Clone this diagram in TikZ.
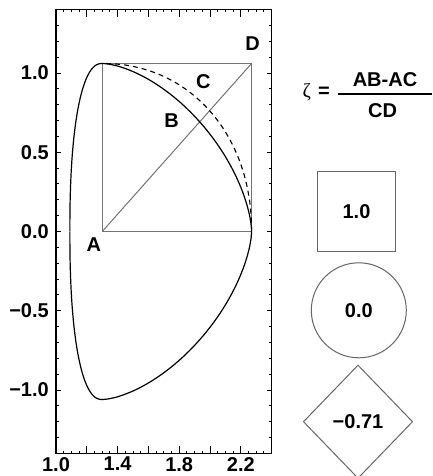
\documentclass[tikz,border=0pt]{standalone}
\usepackage{fontspec}
\setmainfont{Liberation Sans}
\newfontfamily\zetafont{Liberation Serif}
\usetikzlibrary{shapes.geometric}
\begin{document}
\begin{tikzpicture}[x=1pt,y=-1pt,
  font=\fontsize{20}{24}\selectfont\bfseries,
  lbl/.style={inner sep=0pt},
  frame/.style={line width=1.4pt,black},
  tick/.style={line width=0.9pt,black},
  curve/.style={line width=1.2pt,black},
  dashcurve/.style={line width=1.1pt,black,dash pattern=on 5pt off 4pt},
  guide/.style={line width=1pt,black!55},
  legendshape/.style={draw=black!60,line width=1pt,inner sep=0pt},
]
\useasboundingbox (0,0) rectangle (433,476);
\fill[white] (0,0) rectangle (433,476);

\begin{scope}[shift={(-98,231.5)},x=154pt,y=158.5pt]
  % frame
  \coordinate (FBL) at (1.0,-1.4);
  \coordinate (FTR) at (2.4,1.4);
  \draw[frame] (FBL) rectangle (FTR);
  % x ticks
  \foreach \i in {1,...,27}{
    \pgfmathsetmacro\xx{1+0.05*\i}
    \pgfmathsetmacro\tl{ifthenelse(mod(\i,4)==0,7,2.8)}
    \draw[tick] (\xx,-1.4) -- ++(0pt,\tl pt);
    \draw[tick] (\xx,1.4) -- ++(0pt,-\tl pt);
  }
  % y ticks
  \foreach \j in {-13,...,13}{
    \pgfmathsetmacro\yy{0.1*\j}
    \pgfmathsetmacro\tl{ifthenelse(mod(\j,5)==0,5,2.8)}
    \draw[tick] (1.0,\yy) -- ++(\tl pt,0pt);
    \draw[tick] (2.4,\yy) -- ++(-\tl pt,0pt);
  }
  % y labels
  \foreach \v/\t in {1.0/1.0,0.5/0.5,0.0/0.0,-0.5/{\char"2212 0.5},-1.0/{\char"2212 1.0}}{
    \node[lbl,anchor=east,xshift=-7pt] (yl\v) at (1.0,\v) {\t};
  }
  % x labels
  \foreach \v in {1.0,1.4,1.8,2.2}{
    \node[lbl,anchor=north,yshift=-3.5pt] (xl\v) at (\v,-1.4) {\v};
  }

  % square ABCD
  \coordinate (A) at (1.30,0);
  \coordinate (D) at (2.27,1.06);
  \draw[guide] (A) rectangle (D);
  \draw[guide] (A) -- (D);

  % plasma boundary
  \draw[curve] plot[domain=0:90,samples=70,variable=\t]
    ({1.30+0.97*pow(max(cos(\t),0.00001),2/1.624)},{1.06*pow(max(sin(\t),0.00001),2/1.624)});
  \draw[curve] plot[domain=90:180,samples=70,variable=\t]
    ({1.30-0.21*pow(max(-cos(\t),0.00001),2/2.3)},{1.06*pow(max(sin(\t),0.00001),2/2.3)});
  \draw[curve] plot[domain=180:270,samples=70,variable=\t]
    ({1.30-0.21*pow(max(-cos(\t),0.00001),2/2.3)},{-1.06*pow(max(-sin(\t),0.00001),2/2.3)});
  \draw[curve] plot[domain=270:360,samples=70,variable=\t]
    ({1.30+0.97*pow(max(cos(\t),0.00001),2/1.6)},{-1.06*pow(max(-sin(\t),0.00001),2/1.6)});
  % reference ellipse (dashed)
  \draw[dashcurve] plot[domain=0:90,samples=70,variable=\t]
    ({1.30+0.97*pow(max(cos(\t),0.00001),2/2.1)},{1.06*pow(max(sin(\t),0.00001),2/2.1)});

  % point labels
  \node[lbl] (lA) at (1.245,-0.08) {A};
  \node[lbl] (lB) at (1.751,0.702) {B};
  \node[lbl] (lC) at (1.957,0.945) {C};
  \node[lbl] (lD) at (2.276,1.187) {D};
\end{scope}

% formula
\node[lbl] (zeta) at (306.7,92) {\zetafont\mdseries ζ};
\node[lbl] (eq) at (324,92.3) {=};
\node[lbl] (num) at (385,79.2) {AB-AC};
\node[lbl] (den) at (382.6,110.8) {CD};
\coordinate (barL) at (338,94);
\coordinate (barR) at (431.7,94);
\draw[line width=1.8pt] (barL) -- (barR);

% legend shapes
\node[legendshape,minimum width=78pt,minimum height=80pt] (sq) at (356.5,211.7) {1.0};
\node[legendshape,circle,minimum size=95pt] (ci) at (358.8,310.3) {0.0};
\node[legendshape,diamond,minimum width=109.4pt,minimum height=113.4pt] (di) at (358,421.7) {\char"2212 0.71};
\end{tikzpicture}
\end{document}
